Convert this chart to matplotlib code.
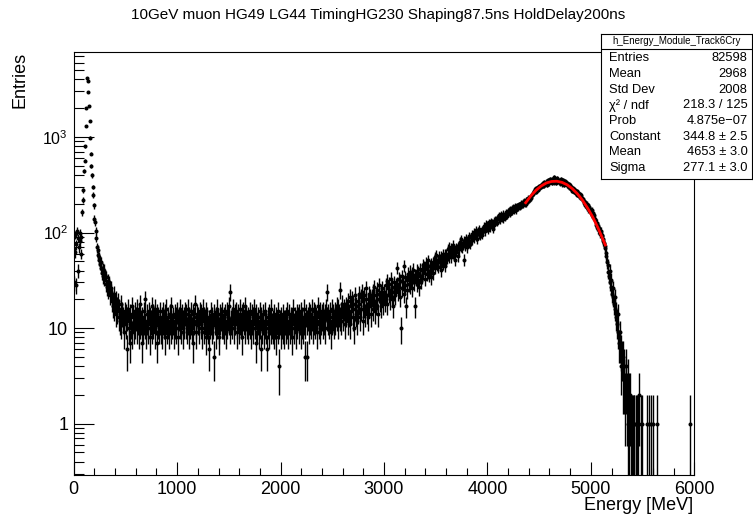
import numpy as np
import matplotlib
matplotlib.use("Agg")
import matplotlib.pyplot as plt
from matplotlib.ticker import FixedLocator, FixedFormatter, LogLocator, MultipleLocator, NullFormatter

plt.rcParams["font.family"] = ["Liberation Sans", "DejaVu Sans"]
plt.rcParams["mathtext.fontset"] = "custom"
plt.rcParams["mathtext.rm"] = "Liberation Sans"
plt.rcParams["mathtext.it"] = "Liberation Sans:italic"

title = "10GeV muon HG49 LG44 TimingHG230 Shaping87.5ns HoldDelay200ns"

# histogram: 1000 bins of 6 MeV from 0 to 6000 MeV, one row = 20 bins
e_lo, e_hi = 0, 6000
counts = [
    30, 95, 62, 28, 75, 104, 88, 40, 70, 100, 82, 60, 90, 163, 220, 278, 440, 565, 800, 1300,
    2000, 4100, 3850, 2950, 2130, 1480, 980, 670, 500, 395, 300, 248, 192, 140, 128, 104, 88, 70, 66, 58,
    52, 55, 47, 43, 49, 38, 42, 35, 40, 33, 36, 29, 34, 27, 31, 25, 28, 30, 22, 26,
    24, 19, 21, 17, 23, 16, 18, 20, 14, 17, 15, 19, 13, 16, 12, 18, 11, 15, 14, 13,
    12, 9, 15, 11, 14, 6, 13, 16, 10, 12, 7, 14, 11, 17, 9, 13, 12, 10, 15, 11,
    13, 10, 16, 12, 9, 14, 11, 18, 12, 7, 13, 10, 15, 12, 11, 20, 9, 14, 12, 10,
    11, 15, 13, 8, 12, 17, 10, 14, 11, 13, 9, 16, 12, 7, 14, 11, 13, 10, 15, 12,
    10, 13, 9, 15, 12, 11, 14, 8, 12, 16, 10, 13, 11, 9, 14, 12, 17, 10, 11, 13,
    12, 9, 14, 11, 13, 10, 15, 12, 8, 13, 11, 16, 10, 12, 14, 9, 12, 13, 11, 15,
    11, 14, 10, 12, 16, 9, 13, 11, 15, 12, 10, 14, 7, 13, 12, 18, 11, 9, 14, 12,
    13, 10, 12, 15, 11, 14, 9, 12, 16, 10, 13, 12, 8, 15, 11, 13, 10, 6, 12, 11,
    12, 15, 10, 13, 11, 5, 14, 12, 9, 13, 16, 11, 12, 10, 8, 14, 12, 13, 11, 15,
    11, 13, 10, 14, 12, 9, 15, 11, 13, 12, 17, 10, 24, 12, 11, 13, 16, 10, 12, 14,
    12, 15, 11, 9, 14, 13, 10, 16, 12, 11, 14, 8, 13, 15, 12, 10, 17, 13, 11, 12,
    13, 10, 12, 15, 11, 9, 14, 12, 10, 13, 16, 11, 12, 7, 14, 10, 12, 13, 9, 15,
    11, 6, 13, 10, 12, 14, 9, 11, 15, 12, 10, 6, 13, 11, 14, 9, 12, 10, 16, 11,
    10, 12, 9, 14, 11, 13, 8, 12, 10, 15, 11, 4, 12, 9, 13, 11, 10, 14, 12, 9,
    12, 10, 13, 11, 15, 9, 12, 14, 10, 11, 13, 8, 12, 16, 11, 10, 13, 12, 9, 14,
    11, 13, 10, 14, 12, 9, 15, 11, 13, 10, 12, 16, 11, 5, 14, 5, 12, 13, 10, 15,
    12, 14, 11, 13, 16, 10, 12, 15, 11, 14, 13, 9, 12, 17, 11, 13, 10, 15, 12, 14,
    13, 11, 15, 12, 14, 10, 16, 13, 24, 12, 14, 11, 15, 13, 9, 16, 12, 14, 13, 11,
    15, 12, 14, 17, 13, 11, 16, 14, 25, 13, 15, 12, 18, 14, 13, 16, 11, 15, 17, 14,
    16, 12, 19, 14, 21, 11, 17, 15, 20, 13, 18, 10, 16, 22, 14, 17, 12, 19, 15, 23,
    18, 13, 21, 16, 24, 12, 19, 17, 22, 14, 20, 26, 15, 18, 13, 23, 17, 21, 14, 19,
    21, 16, 24, 19, 27, 15, 22, 18, 25, 20, 14, 23, 28, 19, 17, 24, 21, 26, 18, 22,
    24, 19, 28, 22, 31, 18, 26, 23, 29, 20, 25, 33, 21, 27, 17, 24, 30, 22, 26, 28,
    29, 43, 24, 33, 27, 21, 31, 10, 35, 26, 30, 23, 45, 28, 34, 17, 32, 25, 37, 29,
    34, 28, 39, 31, 37, 26, 35, 41, 30, 36, 17, 33, 40, 29, 38, 32, 27, 42, 35, 31,
    41, 35, 46, 38, 44, 33, 42, 48, 37, 43, 39, 51, 36, 45, 40, 34, 47, 42, 38, 49,
    48, 55, 43, 52, 58, 46, 51, 44, 57, 49, 53, 41, 56, 50, 60, 47, 54, 45, 59, 52,
    60, 54, 67, 58, 71, 56, 63, 69, 55, 65, 61, 74, 59, 66, 52, 70, 64, 68, 57, 72,
    73, 67, 80, 71, 85, 69, 77, 74, 52, 82, 72, 79, 88, 75, 70, 83, 78, 91, 76, 81,
    89, 97, 84, 93, 102, 87, 95, 106, 91, 99, 86, 104, 96, 110, 93, 101, 97, 108, 95, 103,
    109, 118, 103, 115, 124, 111, 120, 107, 128, 116, 122, 113, 131, 119, 126, 110, 133, 121, 127, 136,
    132, 141, 127, 146, 138, 151, 135, 144, 156, 140, 149, 137, 158, 147, 153, 143, 162, 150, 159, 166,
    161, 172, 158, 176, 167, 181, 164, 185, 173, 169, 188, 177, 183, 171, 192, 180, 186, 197, 184, 194,
    189, 204, 196, 210, 193, 215, 201, 208, 219, 199, 223, 212, 229, 218, 234, 225, 241, 231, 247, 256,
    255, 271, 263, 283, 268, 290, 276, 298, 281, 305, 289, 296, 314, 301, 320, 308, 328, 313, 335, 319,
    322, 341, 315, 352, 333, 347, 326, 361, 338, 350, 329, 366, 343, 335, 378, 349, 331, 357, 340, 372,
    355, 334, 349, 327, 364, 338, 344, 320, 353, 331, 316, 345, 322, 337, 311, 328, 306, 319, 299, 313,
    307, 286, 294, 275, 291, 268, 284, 263, 279, 258, 272, 249, 261, 255, 240, 252, 233, 244, 226, 229,
    222, 205, 213, 196, 207, 189, 199, 183, 192, 175, 186, 168, 177, 161, 170, 154, 159, 147, 151, 139,
    134, 121, 127, 114, 118, 108, 112, 101, 97, 104, 91, 94, 85, 81, 78, 72, 69, 61, 57, 49,
    46, 39, 35, 40, 30, 27, 32, 23, 21, 26, 18, 16, 21, 13, 15, 11, 9, 14, 7, 9,
    7, 4, 6, 5, 3, 5, 4, 3, 2, 4, 3, 2, 1, 3, 2, 1, 2, 0, 1, 1,
    1, 0, 1, 1, 0, 1, 0, 1, 0, 1, 0, 2, 0, 1, 0, 0, 1, 0, 0, 0,
    0, 0, 0, 0, 1, 0, 0, 1, 0, 0, 1, 0, 0, 1, 0, 0, 0, 0, 0, 0,
    1, 0, 0, 0, 0, 0, 0, 0, 0, 0, 0, 0, 0, 0, 0, 0, 0, 0, 0, 0,
    0, 0, 0, 0, 0, 0, 0, 0, 0, 0, 0, 0, 0, 0, 0, 0, 0, 0, 0, 0,
    0, 0, 0, 0, 0, 0, 0, 0, 0, 0, 0, 0, 1, 0, 0, 0, 0, 0, 0, 0,
]

# gaussian fit curve (red)
fit_energy = [4370, 4420, 4470, 4520, 4570, 4620, 4670, 4720, 4770,
              4820, 4870, 4920, 4970, 5020, 5070, 5120, 5140]
fit_value = [205, 242, 277, 307, 330, 342, 344, 335, 316,
             288, 254, 217, 179, 144, 111, 83, 74]

y_ticks = [1, 10, 100, 1000]
y_ticklabels = ["1", "10", "$10^{2}$", "$10^{3}$"]

stat_title = "h_Energy_Module_Track6Cry"
stat_labels = ["Entries", "Mean", "Std Dev", "χ² / ndf", "Prob", "Constant", "Mean", "Sigma"]
stat_values = ["82598", "2968", "2008", "218.3 / 125", "4.875e\u221207",
               "344.8 ± 2.5", "4653 ± 3.0", "277.1 ± 3.0"]

W, H = 753, 516
fig = plt.figure(figsize=(W / 100, H / 100), dpi=100)
ax = fig.add_axes([73.7 / W, 1 - 475 / H, (694.3 - 73.7) / W, (475 - 51.7) / H])

y = np.array(counts, dtype=float)
edges = np.linspace(e_lo, e_hi, len(y) + 1)
x = 0.5 * (edges[:-1] + edges[1:])
keep = y > 0
ax.errorbar(x[keep], y[keep], yerr=np.sqrt(y[keep]), fmt="o", ms=2.9, mew=0,
            color="black", ecolor="black", elinewidth=1.0, capsize=0, zorder=2)
ax.plot(fit_energy, fit_value, color="red", lw=2.0, zorder=3)

ax.set_yscale("log")
ax.set_xlim(e_lo, e_hi)
ax.set_ylim(0.29, 7800)

ax.xaxis.set_major_locator(MultipleLocator(1000))
ax.xaxis.set_minor_locator(MultipleLocator(200))
ax.yaxis.set_major_locator(FixedLocator(y_ticks))
ax.yaxis.set_major_formatter(FixedFormatter(y_ticklabels))
ax.yaxis.set_minor_locator(LogLocator(base=10, subs=np.arange(2, 10)))
ax.yaxis.set_minor_formatter(NullFormatter())

ax.tick_params(axis="x", which="major", direction="in", length=9.4, width=0.8,
               top=False, labelsize=13, pad=4)
ax.tick_params(axis="x", which="minor", direction="in", length=4.7, width=0.8, top=False)
ax.tick_params(axis="y", which="major", direction="in", length=14.4, width=0.8,
               right=False, labelsize=13, pad=4)
ax.tick_params(axis="y", which="minor", direction="in", length=7.2, width=0.8, right=False)
for lab in ax.get_yticklabels():
    if "^" in lab.get_text():
        lab.set_fontsize(11.5)
for s in ax.spines.values():
    s.set_linewidth(0.8)

fig.text(378 / W, 1 - 15 / H, title, ha="center", va="center", fontsize=11)
fig.text(20 / W, 1 - 52 / H, "Entries", rotation=90, ha="center", va="top", fontsize=13)
fig.text(693 / W, 1 - 510 / H, "Energy [MeV]", ha="right", va="baseline", fontsize=13)

# stats box
bx0, bx1, by0, by1 = 601, 752, 34, 179
box = fig.add_axes([bx0 / W, 1 - by1 / H, (bx1 - bx0) / W, (by1 - by0) / H])
box.set_xticks([])
box.set_yticks([])
box.set_facecolor("white")
for s in box.spines.values():
    s.set_linewidth(0.8)
box.set_xlim(bx0, bx1)
box.set_ylim(by1, by0)
box.axhline(49, color="black", lw=0.8)
box.text((bx0 + bx1) / 2, 41.5, stat_title, ha="center", va="center", fontsize=7)
for i, (lab, val) in enumerate(zip(stat_labels, stat_values)):
    yy = 58.3 + 15.7 * i
    box.text(609, yy, lab, ha="left", va="center", fontsize=9.3)
    box.text(747.5, yy, val, ha="right", va="center", fontsize=9.3)

fig.savefig("out.png", dpi=100)
